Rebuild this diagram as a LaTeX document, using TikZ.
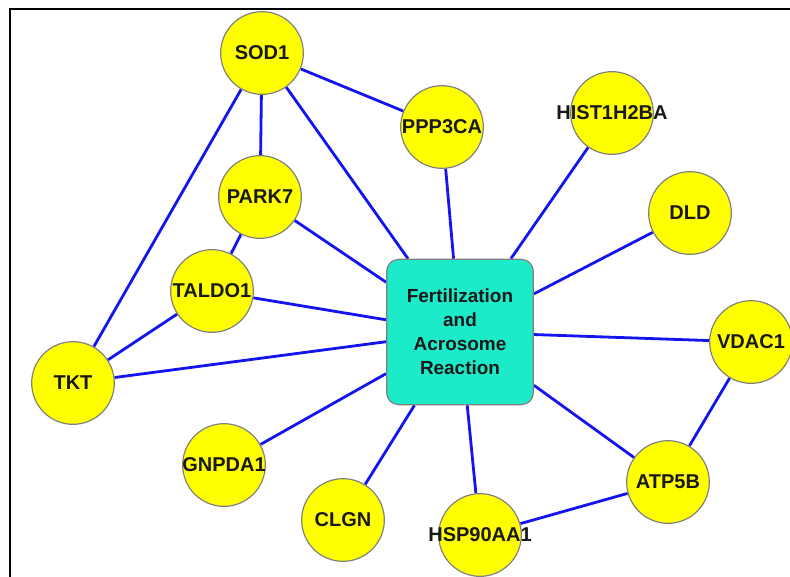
\documentclass[tikz,border=0pt]{standalone}
\usepackage{fontspec}
\setmainfont{Liberation Sans}
\usetikzlibrary{backgrounds}
\definecolor{geneyellow}{RGB}{255,255,0}
\definecolor{termcyan}{RGB}{28,234,200}
\definecolor{linkblue}{RGB}{20,20,240}
% wide names spill over the circle
\newcommand{\widename}[1]{\makebox[0pt]{#1}}

\begin{document}
\begin{tikzpicture}[x=0.75pt,y=-0.75pt,
  gene/.style={circle, draw=gray, line width=0.9pt, fill=geneyellow, minimum size=62pt, inner sep=0pt,
    text=black!90, font=\bfseries\fontsize{15}{17}\selectfont},
  term/.style={rounded corners=9pt, draw=gray, line width=0.9pt, fill=termcyan, minimum width=110pt,
    minimum height=109pt, align=center, text=black!90, font=\bfseries\fontsize{14.2}{18}\selectfont},
  link/.style={draw=linkblue, line width=2.1pt}]
\useasboundingbox (0,0) rectangle (790,576);
\draw[line width=1.6pt] (10,600) -- (10,9) -- (800,9);

\node[term] (fert) at (460,332) {Fertilization\\and\\Acrosome\\Reaction};
\node[gene] (sod) at (262,53) {SOD1};
\node[gene] (park) at (260,197) {PARK7};
\node[gene] (ppp) at (442,127) {PPP3CA};
\node[gene] (hist) at (612,113) {\widename{HIST1H2BA}};
\node[gene] (dld) at (690,213) {DLD};
\node[gene] (vdac) at (751,342) {\widename{VDAC1}};
\node[gene] (atp) at (668,482) {ATP5B};
\node[gene] (hsp) at (480,535) {\widename{HSP90AA1}};
\node[gene] (clgn) at (343,520) {CLGN};
\node[gene] (gnp) at (224,465) {\widename{GNPDA1}};
\node[gene] (tkt) at (73,383) {TKT};
\node[gene] (tal) at (212,291) {\widename{TALDO1}};

\begin{pgfonlayer}{background}
\draw[link] (sod) -- (ppp);
\draw[link] (sod) -- (park);
\draw[link] (sod) -- (fert);
\draw[link] (sod) -- (tkt);
\draw[link] (ppp) -- (fert);
\draw[link] (hist) -- (fert);
\draw[link] (dld) -- (fert);
\draw[link] (vdac) -- (fert);
\draw[link] (vdac) -- (atp);
\draw[link] (atp) -- (fert);
\draw[link] (atp) -- (hsp);
\draw[link] (hsp) -- (fert);
\draw[link] (clgn) -- (fert);
\draw[link] (gnp) -- (fert);
\draw[link] (tkt) -- (fert);
\draw[link] (tkt) -- (tal);
\draw[link] (tal) -- (fert);
\draw[link] (tal) -- (park);
\draw[link] (park) -- (fert);
\end{pgfonlayer}
\end{tikzpicture}
\end{document}
